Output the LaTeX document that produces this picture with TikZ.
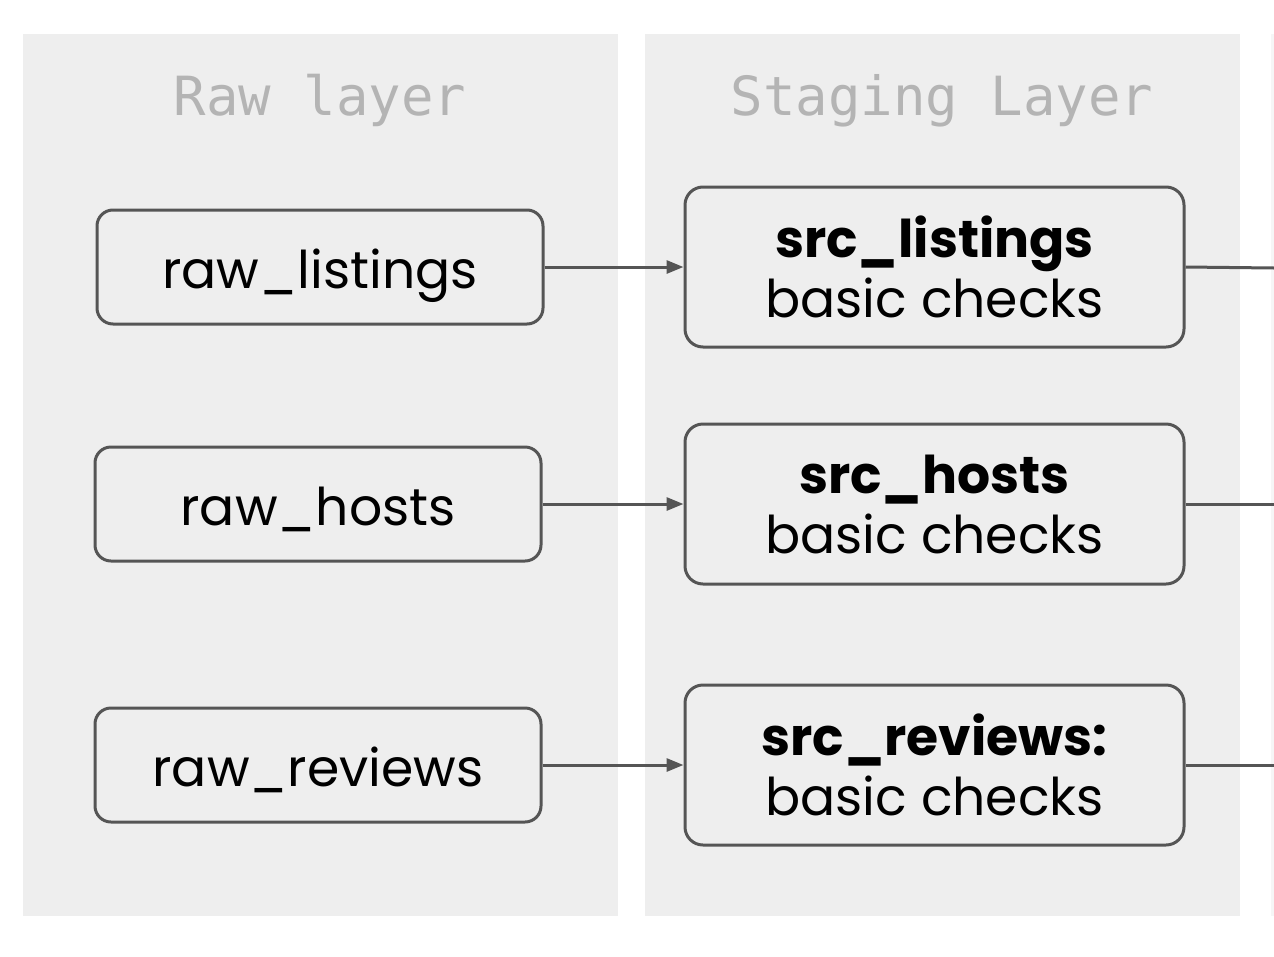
\documentclass[tikz,border=0pt]{standalone}
\usepackage{fontspec}
\setmainfont{Poppins}
\newfontfamily\titlefont{DejaVu Sans Mono}
\usetikzlibrary{arrows.meta}
\definecolor{panelgray}{HTML}{EEEEEE}
\definecolor{panellight}{HTML}{F6F6F6}
\definecolor{edgegray}{HTML}{555555}
\definecolor{titlegray}{HTML}{B4B4B4}
\begin{document}
\begin{tikzpicture}[x=1pt,y=-1pt,
  panel/.style={fill=panelgray,draw=none},
  layertitle/.style={font=\titlefont\fontsize{54}{58}\selectfont,text=titlegray,anchor=base},
  rawbox/.style={draw=edgegray,line width=3pt,fill=panelgray,rounded corners=16pt,
    minimum width=446pt,minimum height=114pt,inner sep=0pt,text height=47pt,text depth=5pt,
    font=\fontsize{52}{60}\selectfont},
  srcbox/.style={draw=edgegray,line width=3pt,fill=panelgray,rounded corners=18pt,
    minimum width=499pt,minimum height=160pt,inner sep=0pt,align=center,
    font=\fontsize{52}{60}\selectfont},
  flow/.style={draw=edgegray,line width=3pt,-{Triangle[length=17pt,width=13pt]}},
  outflow/.style={draw=edgegray,line width=3pt}
]
\useasboundingbox (0,0) rectangle (1274,956);
\fill[white] (0,0) rectangle (1274,956);
\path[panel] (23,34) rectangle (618,916);
\path[panel] (645,34) rectangle (1240,916);
\fill[panellight] (1271,34) rectangle (1280,916);
\node[layertitle] (t1) at (320,115) {Raw layer};
\node[layertitle] (t2) at (942,115) {Staging Layer};

\node[rawbox] (rl) at (320,267) {raw\_listings};
\node[rawbox] (rh) at (318,504) {raw\_hosts};
\node[rawbox] (rr) at (318,765) {raw\_reviews};

\node[srcbox] (sl) at (934.5,267) {\textbf{src\_listings}\\basic checks};
\node[srcbox] (sh) at (934.5,504) {\textbf{src\_hosts}\\basic checks};
\node[srcbox] (sr) at (934.5,765) {\textbf{src\_reviews:}\\basic checks};

\coordinate (ol) at (1274,268);
\coordinate (oh) at (1274,504);
\coordinate (or) at (1274,765);

\draw[flow] (rl.east) -- (sl.west);
\draw[flow] (rh.east) -- (sh.west);
\draw[flow] (rr.east) -- (sr.west);
\draw[outflow] (sl.east) -- (ol);
\draw[outflow] (sh.east) -- (oh);
\draw[outflow] (sr.east) -- (or);
\end{tikzpicture}
\end{document}
